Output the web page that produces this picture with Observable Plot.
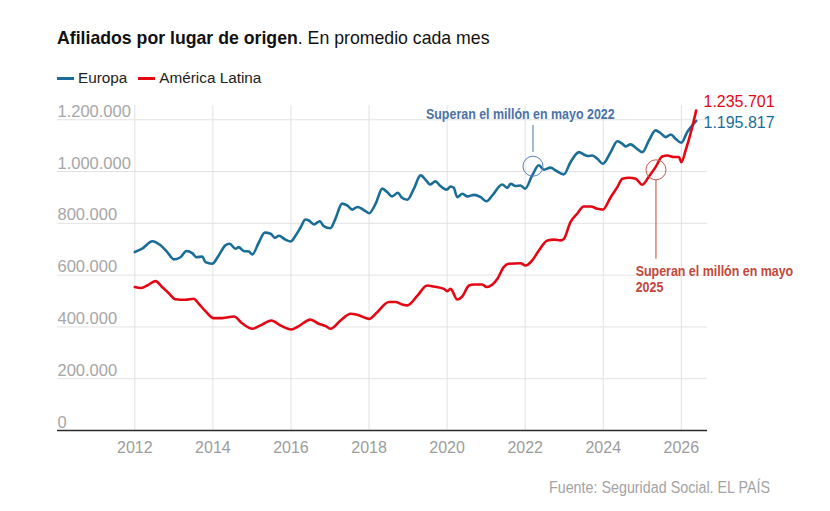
<!DOCTYPE html>
<html><head><meta charset="utf-8">
<script src="https://cdn.jsdelivr.net/npm/d3@7"></script>
<script src="https://cdn.jsdelivr.net/npm/@observablehq/plot@0.6"></script>
<style>
body{margin:0;background:#fff;}
#wrap{position:relative;width:830px;height:511px;overflow:hidden;font-family:"Liberation Sans",Arial,sans-serif;}
#chart{position:absolute;left:0;top:0;}
#title{position:absolute;left:57px;top:30px;font-size:17.7px;line-height:1;color:#111;white-space:nowrap;}
#title b{font-weight:700;}
#legend{position:absolute;left:57px;top:69.6px;font-size:15.3px;line-height:1;color:#222;display:flex;align-items:center;white-space:nowrap;}
.it{display:inline-flex;align-items:center;margin-right:11px;}
.sw{display:inline-block;width:17px;height:3px;margin-right:4px;position:relative;top:1px;}
#source{position:absolute;right:60px;top:479.4px;font-family:"Liberation Sans Narrow","Arial Narrow","Liberation Sans",sans-serif;font-size:17.3px;line-height:1;color:#a3a3a3;white-space:nowrap;transform:scaleX(0.828);transform-origin:right center;}
</style></head>
<body>
<div id="wrap">
  <div id="chart"></div>
  <div id="title"><b>Afiliados por lugar de origen</b>. En promedio cada mes</div>
  <div id="legend"></div>
  <div id="source">Fuente: Seguridad Social. EL PAÍS</div>
</div>
<script>
// Series names and colours
const seriesNames = ["Europa", "América Latina"];
const seriesColors = ["#1a6d97", "#e30613"];

// Tick values
const xTicks = [2012, 2014, 2016, 2018, 2020, 2022, 2024, 2026];
const yTicks = [0, 200000, 400000, 600000, 800000, 1000000, 1200000];

// Europa: time (decimal year) and affiliates (thousands)
const europaT = [2012.00, 2012.19, 2012.45, 2012.66, 2012.83, 2013.00, 2013.17, 2013.32, 2013.47, 2013.58,
  2013.73, 2013.81, 2013.98, 2014.15, 2014.32, 2014.43, 2014.58, 2014.66, 2014.79, 2014.92,
  2015.01, 2015.18, 2015.33, 2015.48, 2015.59, 2015.69, 2015.86, 2015.99, 2016.12, 2016.25,
  2016.37, 2016.46, 2016.59, 2016.74, 2016.84, 2017.01, 2017.14, 2017.31, 2017.44, 2017.57,
  2017.70, 2017.91, 2018.00, 2018.17, 2018.34, 2018.47, 2018.59, 2018.74, 2018.83, 2018.98,
  2019.15, 2019.32, 2019.45, 2019.56, 2019.70, 2019.83, 2019.99, 2020.09, 2020.17, 2020.26,
  2020.39, 2020.52, 2020.69, 2020.86, 2021.01, 2021.16, 2021.41, 2021.54, 2021.63, 2021.75,
  2021.88, 2022.00, 2022.18, 2022.35, 2022.48, 2022.65, 2022.78, 2022.99, 2023.16, 2023.38,
  2023.50, 2023.61, 2023.72, 2023.85, 2023.99, 2024.19, 2024.36, 2024.49, 2024.57, 2024.70,
  2024.83, 2025.00, 2025.17, 2025.34, 2025.47, 2025.60, 2025.73, 2025.85, 2026.00, 2026.15,
  2026.38];
const europaMiles = [689, 702, 731, 715, 689, 661, 669, 693, 685, 669,
  672, 650, 644, 676, 715, 721, 702, 708, 693, 691,
  680, 727, 764, 760, 744, 752, 737, 730, 753, 785,
  815, 811, 796, 808, 789, 781, 818, 876, 869, 853,
  863, 847, 839, 876, 934, 920, 904, 918, 901, 891,
  934, 985, 968, 950, 962, 944, 930, 942, 937, 901,
  914, 904, 910, 901, 885, 908, 950, 937, 953, 944,
  946, 934, 985, 1024, 1007, 1015, 1004, 989, 1036, 1075,
  1066, 1060, 1062, 1049, 1030, 1075, 1117, 1107, 1097, 1105,
  1092, 1075, 1120, 1159, 1148, 1133, 1143, 1127, 1111, 1152,
  1195.817];

// América Latina: time (decimal year) and affiliates (thousands)
const latamT = [2012.00, 2012.15, 2012.32, 2012.53, 2012.70, 2012.87, 2013.04, 2013.30, 2013.51, 2013.64,
  2013.81, 2014.02, 2014.24, 2014.54, 2014.75, 2015.01, 2015.22, 2015.50, 2015.73, 2016.01,
  2016.20, 2016.50, 2016.71, 2016.89, 2017.01, 2017.27, 2017.53, 2017.70, 2018.00, 2018.21,
  2018.51, 2018.68, 2018.85, 2018.98, 2019.24, 2019.49, 2019.66, 2019.92, 2020.00, 2020.09,
  2020.26, 2020.39, 2020.56, 2020.69, 2020.90, 2021.01, 2021.16, 2021.29, 2021.45, 2021.58,
  2021.88, 2022.01, 2022.18, 2022.35, 2022.57, 2022.74, 2022.91, 2022.99, 2023.16, 2023.33,
  2023.50, 2023.68, 2023.85, 2023.99, 2024.19, 2024.36, 2024.49, 2024.66, 2024.83, 2025.00,
  2025.17, 2025.34, 2025.51, 2025.64, 2025.81, 2025.94, 2026.00, 2026.11, 2026.28, 2026.38];
const latamMiles = [554, 550, 560, 577, 554, 530, 507, 505, 509, 489,
  461, 434, 434, 440, 414, 393, 406, 425, 406, 390,
  403, 428, 412, 403, 393, 425, 451, 447, 431, 457,
  496, 496, 487, 483, 521, 560, 556, 547, 538, 547,
  506, 518, 560, 564, 564, 554, 564, 586, 631, 644,
  646, 637, 657, 695, 734, 737, 734, 740, 805, 837,
  865, 865, 856, 853, 901, 940, 972, 976, 972, 949,
  981, 1017, 1058, 1062, 1056, 1056, 1036, 1082, 1172, 1235.701];

// Annotations (circles where each series passes one million)
const anotT = [2022.20, 2025.35];
const anotV = [1020600, 1006700];
const anotTexto = ["Superan el millón en mayo 2022", "Superan el millón en mayo\n2025"];
const anotColor = ["#4a72a8", "#c3473a"];
const anotCircle = ["#5b80b6", "#c95c50"];

const fmt = d3.formatLocale({decimal: ",", thousands: ".", grouping: [3], currency: ["", "€"]}).format(",d");
const europa = europaT.map((t, i) => ({t, v: Math.round(europaMiles[i] * 1000)}));
const latam = latamT.map((t, i) => ({t, v: Math.round(latamMiles[i] * 1000)}));
const anot = anotT.map((t, i) => ({t, v: anotV[i], texto: anotTexto[i]}));

// legend
const legend = document.getElementById("legend");
seriesNames.forEach((n, i) => {
  const it = document.createElement("span"); it.className = "it";
  const sw = document.createElement("span"); sw.className = "sw"; sw.style.background = seriesColors[i];
  it.appendChild(sw); it.appendChild(document.createTextNode(n));
  legend.appendChild(it);
});

const lineShape = {draw(ctx, l) { ctx.moveTo(0, 0); ctx.lineTo(0, -l); }};
const font = "Liberation Sans, Arial, sans-serif";

const lastE = europa[europa.length - 1];
const lastL = latam[latam.length - 1];

const plot = Plot.plot({
  width: 830, height: 511,
  marginLeft: 57, marginRight: 123, marginTop: 105, marginBottom: 81,
  style: {background: "transparent", overflow: "visible", fontFamily: font},
  x: {type: "linear", domain: [2010.02, 2026.67], axis: null},
  y: {domain: [0, 1255000], axis: null},
  marks: [
    Plot.gridX(xTicks, {stroke: "#e2e2e2", strokeOpacity: 1}),
    Plot.gridY(yTicks.filter(d => d > 0), {stroke: "#e2e2e2", strokeOpacity: 1}),
    Plot.text(yTicks, {y: d => d, frameAnchor: "left", text: d => fmt(d), textAnchor: "start", lineAnchor: "bottom", dy: -3, fontSize: 16.5, fill: "#a6a6a6"}),
    Plot.text(xTicks, {x: d => d, frameAnchor: "bottom", text: d => String(d), lineAnchor: "top", dy: 11, fontSize: 16, fill: "#9c9c9c"}),
    Plot.ruleY([0], {stroke: "#2b2b2b", strokeWidth: 1.5}),
    Plot.line(europa, {x: "t", y: "v", stroke: seriesColors[0], strokeWidth: 2.6, curve: "monotone-x"}),
    Plot.line(latam, {x: "t", y: "v", stroke: seriesColors[1], strokeWidth: 2.6, curve: "monotone-x"}),
    // annotation 1 (Europa)
    Plot.dot([anot[0]], {x: "t", y: "v", r: 10, stroke: anotCircle[0], fill: "none", strokeWidth: 1}),
    Plot.vector([anot[0]], {x: "t", y: "v", length: 26, rotate: 0, anchor: "start", dy: -14.7, stroke: anotColor[0], strokeWidth: 1, shape: lineShape}),
    Plot.text([anot[0]], {x: "t", y: "v", text: "texto", dx: -12.7, dy: -47.4, textAnchor: "middle", lineAnchor: "bottom", fill: anotColor[0], fontSize: 15, fontWeight: "bold"}),
    // annotation 2 (América Latina)
    Plot.dot([anot[1]], {x: "t", y: "v", r: 10, stroke: anotCircle[1], fill: "none", strokeWidth: 1}),
    Plot.vector([anot[1]], {x: "t", y: "v", length: 78, rotate: 180, anchor: "start", dy: 10.5, stroke: anotColor[1], strokeWidth: 1, shape: lineShape}),
    Plot.text([anot[1]], {x: "t", y: "v", text: "texto", dx: -20.3, dy: 94.3, textAnchor: "start", lineAnchor: "top", lineHeight: 1.09, fill: anotColor[1], fontSize: 15, fontWeight: "bold"}),
    // end labels
    Plot.text([lastL], {x: "t", y: "v", text: d => fmt(d.v), dx: 7.3, dy: -3.5, textAnchor: "start", lineAnchor: "bottom", fill: seriesColors[1], fontSize: 16}),
    Plot.text([lastE], {x: "t", y: "v", text: d => fmt(d.v), dx: 7.3, dy: 7.3, textAnchor: "start", lineAnchor: "bottom", fill: seriesColors[0], fontSize: 16})
  ]
});

// condense the annotation texts horizontally (no narrow font installed)
for (const c of anotColor) {
  plot.querySelectorAll(`g[aria-label="text"][fill="${c}"] text`).forEach(t => {
    let tr = t.getAttribute("transform");
    if (!tr) {
      const x = +t.getAttribute("x") || 0, y = +t.getAttribute("y") || 0;
      t.removeAttribute("x"); t.removeAttribute("y");
      tr = `translate(${x},${y})`;
    }
    t.setAttribute("transform", tr + " scale(0.83,1)");
  });
}
document.getElementById("chart").appendChild(plot);
</script>
</body></html>
